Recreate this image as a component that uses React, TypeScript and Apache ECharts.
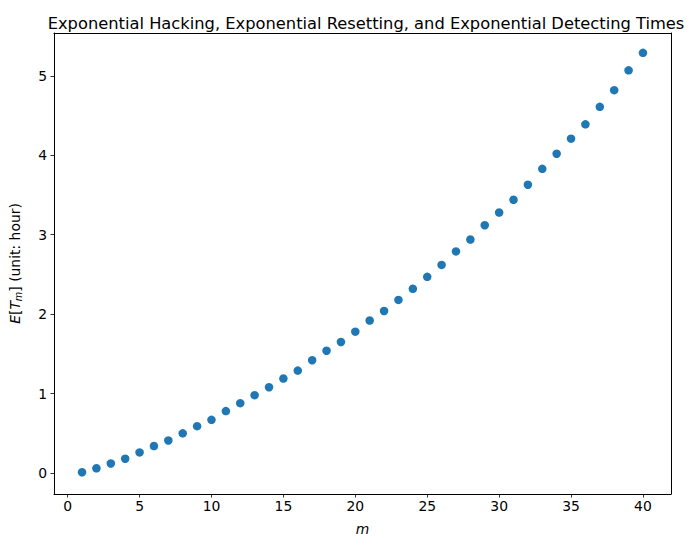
import React, { useEffect, useRef } from "react";
import * as echarts from "echarts";

const mValues = [1,2,3,4,5,6,7,8,9,10,11,12,13,14,15,16,17,18,19,20,21,22,23,24,25,26,27,28,29,30,31,32,33,34,35,36,37,38,39,40];
const expectedT = [0.01,0.06,0.12,0.18,0.26,0.34,0.41,0.50,0.59,0.67,0.78,0.88,0.98,1.08,1.19,1.29,1.42,1.54,1.65,1.78,1.92,2.04,2.18,2.32,2.47,2.62,2.79,2.94,3.12,3.28,3.44,3.63,3.83,4.02,4.21,4.39,4.61,4.82,5.07,5.29];
const xTicks = [0,5,10,15,20,25,30,35,40];
const yTicks = [0,1,2,3,4,5];

const FONT = "DejaVu Sans";

export default function App() {
  const ref = useRef<HTMLDivElement>(null);
  useEffect(() => {
    if (!ref.current) return;
    const chart = echarts.init(ref.current, null, { renderer: "svg" });
    const axisCommon = {
      axisLine: { show: true, onZero: false, lineStyle: { color: "#000", width: 1 } },
      axisTick: { show: true, inside: false, length: 3.5, lineStyle: { color: "#000", width: 0.8 } },
      splitLine: { show: false },
      axisLabel: { color: "#000", fontFamily: FONT, fontSize: 13.9, margin: 5 },
    };
    chart.setOption({
      animation: false,
      backgroundColor: "#fff",
      title: {
        text: "Exponential Hacking, Exponential Resetting, and Exponential Detecting Times",
        left: 361,
        textAlign: "center",
        top: 10,
        textStyle: { fontFamily: FONT, fontSize: 16.3, fontWeight: "normal", color: "#000" },
      },
      grid: { left: 52, right: 24, top: 33, bottom: 53, containLabel: false, show: false },
      xAxis: [
        {
          type: "value",
          min: -0.95,
          max: 41.95,
          ...axisCommon,
          axisTick: { ...axisCommon.axisTick, customValues: xTicks },
          axisLabel: { ...axisCommon.axisLabel, customValues: xTicks },
          name: "m",
          nameLocation: "middle",
          nameGap: 28,
          nameTextStyle: { fontFamily: FONT, fontSize: 13.9, fontStyle: "italic", color: "#000" },
        },
        {
          type: "value",
          position: "top",
          min: -0.95,
          max: 41.95,
          axisLine: { show: true, onZero: false, lineStyle: { color: "#000", width: 1 } },
          axisTick: { show: false },
          axisLabel: { show: false },
          splitLine: { show: false },
        },
      ],
      yAxis: [
        {
          type: "value",
          min: -0.264,
          max: 5.54,
          ...axisCommon,
          axisTick: { ...axisCommon.axisTick, customValues: yTicks },
          axisLabel: { ...axisCommon.axisLabel, customValues: yTicks, margin: 7 },
          name: "{i|E}[{i|T}{sub|m}] (unit: hour)",
          nameLocation: "middle",
          nameGap: 31,
          nameTextStyle: {
            fontFamily: FONT,
            fontSize: 13.9,
            color: "#000",
            rich: {
              i: { fontFamily: FONT, fontSize: 13.9, fontStyle: "italic", color: "#000" },
              sub: { fontFamily: FONT, fontSize: 9.7, fontStyle: "italic", color: "#000", padding: [6, 0, 0, 0] },
            },
          },
        },
        {
          type: "value",
          position: "right",
          min: -0.264,
          max: 5.54,
          axisLine: { show: true, onZero: false, lineStyle: { color: "#000", width: 1 } },
          axisTick: { show: false },
          axisLabel: { show: false },
          splitLine: { show: false },
        },
      ],
      series: [
        {
          type: "scatter",
          data: mValues.map((m, i) => [m, expectedT[i]]),
          symbol: "circle",
          symbolSize: 8.5,
          itemStyle: { color: "#1f77b4", opacity: 1 },
        },
      ],
    });
    return () => chart.dispose();
  }, []);
  return (
    <div
      ref={ref}
      style={{ position: "absolute", left: 0, top: 0, width: 695, height: 547, background: "#fff" }}
    />
  );
}
